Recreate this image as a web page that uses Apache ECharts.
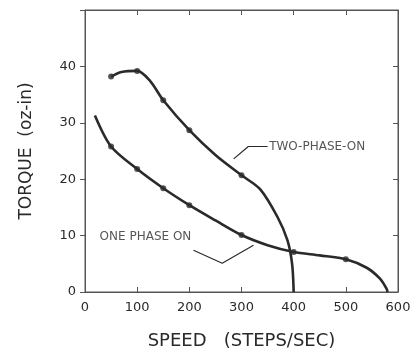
<!DOCTYPE html>
<html><head><meta charset="utf-8">
<script src="https://cdn.jsdelivr.net/npm/echarts@6/dist/echarts.min.js"></script>
<style>html,body{margin:0;padding:0;background:#fff}#c{width:418px;height:362px}</style>
</head><body><div id="c"></div>
<script>
// Curve data (speed steps/sec, torque oz-in)
const twoPhaseCurve = [[50,38.2],[70,39.0],[100,39.2],[125,37.4],[150,34.0],[200,28.7],[250,24.3],[300,20.7],[336,18.2],[369,13.3],[388,9.2],[397,5],[400,0]];
const twoPhaseMarks = [[50,38.2],[100,39.2],[150,34.0],[200,28.7],[300,20.7]];
const onePhaseCurve = [[19,31.3],[50,25.8],[100,21.8],[150,18.4],[200,15.4],[250,12.7],[300,10.1],[350,8.3],[400,7.1],[450,6.5],[500,5.8],[540,4.3],[565,2.4],[578,0.6],[580,0]];
const onePhaseMarks = [[50,25.8],[100,21.8],[150,18.4],[200,15.4],[300,10.1],[400,7.1],[500,5.8]];
const twoLeader = [[350,25.8],[313,25.8],[285,23.6]];
const oneLeader = [[208,7.4],[263,5.1],[323,8.3]];
const labels = [{name:'TWO-PHASE-ON', at:[353,25.8]},{name:'ONE PHASE ON', at:[28,9.8]}];
const xTicks = [0,100,200,300,400,500,600];
const yTicks = [0,10,20,30,40];

const ink = '#2a2a2a';
const font = 'DejaVu Sans';
const mkLine = () => ({show:true,onZero:false,lineStyle:{color:'#555',width:1}});
const mkTick = (inside) => ({show:true,inside:inside,length:5,lineStyle:{color:'#555',width:1}});
const box = {left:85,right:20,top:10,bottom:70};
const chart = echarts.init(document.getElementById('c'));
chart.setOption({
  backgroundColor:'#fff',
  animation:false,
  grid:[Object.assign({show:true,borderColor:'#555',borderWidth:1},box), Object.assign({},box)],
  xAxis:[
    {type:'value',gridIndex:0,min:0,max:600,interval:100,position:'bottom',
     axisLine:mkLine(),axisTick:mkTick(true),
     axisLabel:{color:ink,fontSize:13,fontFamily:font,margin:9,formatter:v=>xTicks.includes(v)?String(v):''},
     splitLine:{show:false},
     name:'SPEED   (STEPS/SEC)',nameLocation:'middle',nameGap:40,
     nameTextStyle:{color:ink,fontSize:18,fontFamily:font}},
    {type:'value',gridIndex:1,min:0,max:600,interval:100,position:'top',
     axisLine:mkLine(),axisTick:mkTick(true),
     axisLabel:{show:false},splitLine:{show:false}}
  ],
  yAxis:[
    {type:'value',gridIndex:0,min:0,max:50,interval:10,position:'left',
     axisLine:mkLine(),axisTick:mkTick(false),
     axisLabel:{color:ink,fontSize:13,fontFamily:font,margin:9,formatter:v=>yTicks.includes(v)?String(v):''},
     splitLine:{show:false},
     name:'TORQUE  (oz-in)',nameLocation:'middle',nameGap:50,
     nameTextStyle:{color:ink,fontSize:17,fontFamily:font}},
    {type:'value',gridIndex:1,min:0,max:50,interval:10,position:'right',
     axisLine:mkLine(),axisTick:mkTick(true),
     axisLabel:{show:false},splitLine:{show:false}}
  ],
  series:[
    {type:'line',data:twoPhaseCurve,smooth:0.3,showSymbol:false,lineStyle:{color:ink,width:2.6},z:3},
    {type:'line',data:onePhaseCurve,smooth:0.3,showSymbol:false,lineStyle:{color:ink,width:2.6},z:3},
    {type:'scatter',data:twoPhaseMarks.concat(onePhaseMarks),symbolSize:6,itemStyle:{color:ink},z:4},
    {type:'line',data:twoLeader,showSymbol:false,lineStyle:{color:ink,width:1.2}},
    {type:'line',data:oneLeader,showSymbol:false,lineStyle:{color:ink,width:1.2}},
    {type:'scatter',symbolSize:0,data:labels.map(l=>({name:l.name,value:l.at})),
     label:{show:true,position:'right',distance:0,formatter:p=>p.name,color:ink,fontSize:12,fontFamily:font}},
    {type:'line',xAxisIndex:1,yAxisIndex:1,data:[[0,0],[600,50]],showSymbol:false,lineStyle:{opacity:0},silent:true}
  ]
});
</script></body></html>
